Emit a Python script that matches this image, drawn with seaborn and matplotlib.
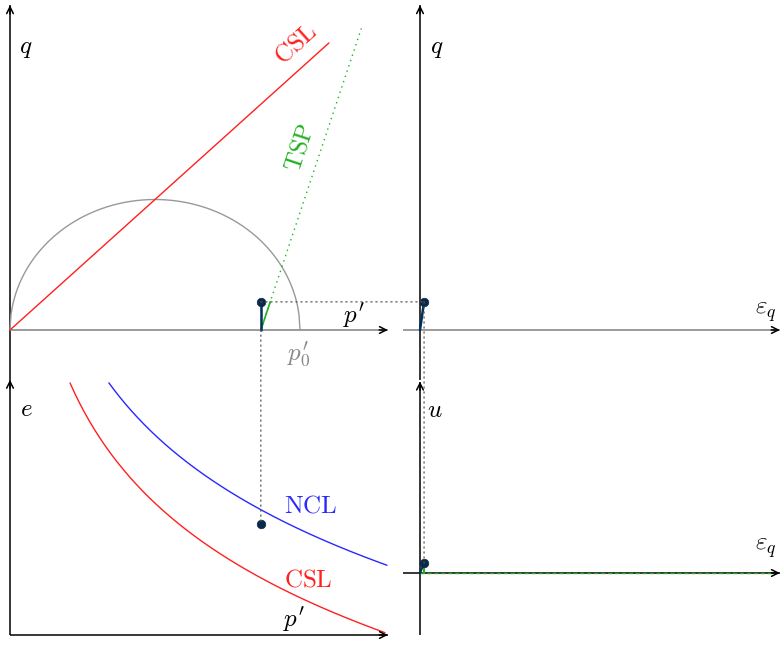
import numpy as np
import pandas as pd
import matplotlib
matplotlib.use('Agg')
import matplotlib.pyplot as plt
from matplotlib.patches import ConnectionPatch
import seaborn as sns

p0 = 10.0            # p'_0, tamanho da superficie de plastificacao
M = 0.9              # inclinacao da CSL
p_atual = 8.65       # p' do estado atual
q_atual = 0.97       # q do estado atual
e_atual = 3.83       # indice de vazios do estado atual
eps_atual = 0.14     # eps_q do estado atual
u_atual = 0.34       # poropressao do estado atual
tsp_incl = 3.0       # inclinacao da trajetoria de tensoes totais
tsp_q_fim = 10.4
csl_p_fim = 11.0
lam = 4.7            # inclinacao das linhas em e - ln p'
N_ncl = 14.46
Gamma_csl = 12.11
ncl_p = [3.41, 13.0]
csl_e_p = [2.07, 12.93]
eps_fim = 12.3

sns.set_theme(style='white')
plt.rcParams['mathtext.fontset'] = 'cm'
plt.rcParams['font.family'] = ['DejaVu Serif']
plt.rcParams['text.color'] = 'black'

W, H, S = 782, 645, 29.0
fig = plt.figure(figsize=(W / 100, H / 100), dpi=100)

def painel(ox, oy, xlim, ylim):
    ax = fig.add_axes([(ox + xlim[0] * S) / W, 1 - (oy - ylim[0] * S) / H,
                       (xlim[1] - xlim[0]) * S / W, (ylim[1] - ylim[0]) * S / H])
    ax.set_xlim(xlim)
    ax.set_ylim(ylim)
    ax.axis('off')
    return ax

def eixo(ax, a, b, cor='black', seta=True):
    ax.plot([a[0], b[0]], [a[1], b[1]], color=cor, lw=1.1, solid_capstyle='butt', clip_on=False)
    if seta:
        d = np.array(b) - np.array(a)
        d = d / np.hypot(*d) * 0.3
        ax.annotate('', xy=b, xytext=(b[0] - d[0], b[1] - d[1]),
                    arrowprops=dict(arrowstyle='->', lw=1.1, color='black',
                                    shrinkA=0, shrinkB=0, mutation_scale=12),
                    annotation_clip=False)

def linha(ax, x, y, cor, lw=1.0, ls='-'):
    sns.lineplot(x=x, y=y, ax=ax, color=cor, lw=lw, linestyle=ls,
                 sort=False, estimator=None, legend=False)

def ponto(ax, x, y):
    sns.scatterplot(x=[x], y=[y], ax=ax, color='#0a2a4a', s=38, edgecolor='#0a2a4a',
                    zorder=5, legend=False)

fs = 18
navy = '#00305c'
verde = '#22b022'
pontilhado = (0, (1, 3))

ax_pq = painel(10, 330, (-0.34, 13.4), (-1.72, 11.38))
ax_eq = painel(420, 330, (-0.65, 12.4), (-1.72, 11.38))
ax_ep = painel(10, 635, (-0.34, 13.4), (-0.3, 8.8))
ax_eu = painel(420, 573, (-0.65, 12.4), (-2.2, 6.6))

# ---- p' - q
eixo(ax_pq, (0, -1.72), (0, 11.2))
eixo(ax_pq, (0, 0), (13.03, 0), cor='#808080')
p_el = np.linspace(0, p0, 300)
linha(ax_pq, p_el, M * np.sqrt(np.clip(p_el * (p0 - p_el), 0, None)), '#999999')
linha(ax_pq, [0, csl_p_fim], [0, M * csl_p_fim], '#ff2020')
linha(ax_pq, [p_atual, p_atual + tsp_q_fim / tsp_incl], [0, tsp_q_fim], verde, ls=pontilhado)
linha(ax_pq, [p_atual, p_atual + q_atual / tsp_incl], [0, q_atual], verde, lw=1.2)
linha(ax_pq, [p_atual, p_atual], [0, q_atual], navy, lw=1.8)
ponto(ax_pq, p_atual, q_atual)
ax_pq.text(0.3, 9.72, '$q$', fontsize=fs, ha='left', va='center')
ax_pq.text(11.5, 0.5, r"$p^{\prime}$", fontsize=fs, ha='left', va='center')
ax_pq.text(9.95, -0.85, r"$p^{\prime}_0$", fontsize=fs, ha='center', va='center', color='#888888')
ang_csl = np.degrees(np.arctan(M))
ang_tsp = np.degrees(np.arctan(tsp_incl))
ax_pq.text(9.85, 9.85, r'$\mathrm{CSL}$', fontsize=fs, color='#ff2020', rotation=ang_csl,
           ha='center', va='center')
ax_pq.text(10.0, 6.3, r'$\mathrm{TSP}$', fontsize=fs, color=verde, rotation=ang_tsp,
           ha='center', va='center')

# ---- eps_q - q
eixo(ax_eq, (0, -1.72), (0, 11.2))
eixo(ax_eq, (-0.59, 0), (12.41, 0), cor='#808080')
linha(ax_eq, [0, eps_atual], [0, q_atual], navy, lw=1.8)
ponto(ax_eq, eps_atual, q_atual)
ax_eq.text(0.35, 9.72, '$q$', fontsize=fs, ha='left', va='center')
ax_eq.text(11.55, 0.62, r'$\varepsilon_q$', fontsize=fs, ha='left', va='center')

# ---- p' - e
eixo(ax_ep, (0, 0), (0, 8.8))
eixo(ax_ep, (0, 0), (13.03, 0))
p_ncl = np.linspace(ncl_p[0], ncl_p[1], 200)
linha(ax_ep, p_ncl, N_ncl - lam * np.log(p_ncl), '#2828ff')
p_csl = np.linspace(csl_e_p[0], csl_e_p[1], 200)
linha(ax_ep, p_csl, Gamma_csl - lam * np.log(p_csl), '#ff2020')
ponto(ax_ep, p_atual, e_atual)
ax_ep.text(0.35, 7.76, '$e$', fontsize=fs, ha='left', va='center')
ax_ep.text(9.45, 4.45, r'$\mathrm{NCL}$', fontsize=fs, color='#2828ff', ha='left', va='center')
ax_ep.text(9.45, 1.9, r'$\mathrm{CSL}$', fontsize=fs, color='#ff2020', ha='left', va='center')
ax_ep.text(9.4, 0.52, r"$p^{\prime}$", fontsize=fs, ha='left', va='center')

# ---- eps_q - u
eixo(ax_eu, (0, -2.14), (0, 6.6))
eixo(ax_eu, (-0.59, 0), (12.41, 0))
linha(ax_eu, [0, eps_fim], [0, 0], verde, ls=(0, (3, 2)))
linha(ax_eu, [eps_atual, eps_atual], [0, u_atual], verde, lw=1.5)
linha(ax_eu, [0, eps_atual], [0, u_atual], navy, lw=1.5)
ponto(ax_eu, eps_atual, u_atual)
ax_eu.text(0.25, 5.62, '$u$', fontsize=fs, ha='left', va='center')
ax_eu.text(11.55, 0.85, r'$\varepsilon_q$', fontsize=fs, ha='left', va='center')

# ---- ligacoes pontilhadas entre os paineis
for xa, axa, xb, axb in [((p_atual, q_atual), ax_pq, (eps_atual, q_atual), ax_eq),
                         ((p_atual, 0), ax_pq, (p_atual, e_atual), ax_ep),
                         ((eps_atual, q_atual), ax_eq, (eps_atual, u_atual), ax_eu)]:
    fig.add_artist(ConnectionPatch(xa, xb, coordsA=axa.transData, coordsB=axb.transData,
                                   color='#555555', lw=0.9, linestyle=pontilhado, zorder=1))

fig.savefig('out.png', dpi=100)
